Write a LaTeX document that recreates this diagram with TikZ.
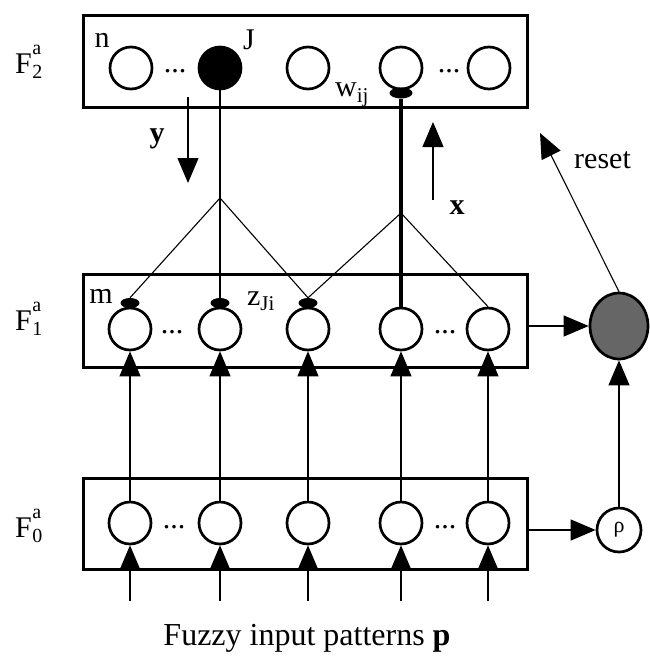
\documentclass[tikz,border=0pt]{standalone}
\usepackage{fontspec}
\setmainfont{Liberation Serif}
\setmathrm{Liberation Serif}
\usetikzlibrary{arrows.meta,shapes.geometric}

\tikzset{
  layerbox/.style={draw, line width=3pt, minimum width=444pt, inner sep=0pt},
  neuron/.style={circle, draw, line width=2.7pt, minimum size=42pt, inner sep=0pt},
  winner/.style={neuron, fill=black},
  capnode/.style={ellipse, fill=black, minimum width=19pt, minimum height=10pt, inner sep=0pt},
  thinline/.style={line width=1.1pt},
  heavyline/.style={line width=3.2pt},
  arr/.style={-{Triangle[length=25pt,width=21pt]}},
  lbl/.style={font=\fontsize{30}{36}\selectfont, inner sep=0pt},
  scriptlbl/.style={font=\fontsize{20}{24}\selectfont, inner sep=0pt, anchor=base west},
  dotsnode/.style={font=\fontsize{30}{36}\selectfont, inner sep=0pt},
}

\begin{document}
\begin{tikzpicture}[x=1pt, y=-1pt]
\useasboundingbox (0,0) rectangle (649,656);

% layer boxes
\node[layerbox, minimum height=92pt] (L2) at (305,61) {};
\node[layerbox, minimum height=93pt] (L1) at (305,320.5) {};
\node[layerbox, minimum height=91pt] (L0) at (305,523.5) {};

% layer labels: F with stacked superscript a and layer index
\node[lbl, anchor=base west] (lab2) at (15,73) {F};
\node[scriptlbl] (lab2a) at (lab2.base east) [yshift=19pt] {a};
\node[scriptlbl] (lab2i) at (lab2.base east) [yshift=-5pt] {2};
\node[lbl, anchor=base west] (lab1) at (15,330) {F};
\node[scriptlbl] (lab1a) at (lab1.base east) [yshift=19pt] {a};
\node[scriptlbl] (lab1i) at (lab1.base east) [yshift=-5pt] {1};
\node[lbl, anchor=base west] (lab0) at (15,537) {F};
\node[scriptlbl] (lab0a) at (lab0.base east) [yshift=19pt] {a};
\node[scriptlbl] (lab0i) at (lab0.base east) [yshift=-5pt] {0};

% F2 units
\node[neuron] (c21) at (131,68) {};
\node[winner] (c22) at (220,68) {};
\node[neuron] (c23) at (308,68) {};
\node[neuron] (c24) at (401,68) {};
\node[neuron] (c25) at (489,68) {};
\node[dotsnode] (d21) at (175,71) {...};
\node[dotsnode] (d22) at (449,71) {...};
\node[capnode, minimum width=23pt, minimum height=11pt] (w24) at (401,93) {};

% F1 units
\node[neuron] (c11) at (130,329) {};
\node[neuron] (c12) at (220,329) {};
\node[neuron] (c13) at (308,329) {};
\node[neuron] (c14) at (401,329) {};
\node[neuron] (c15) at (488,329) {};
\node[dotsnode] (d11) at (172,332) {...};
\node[dotsnode] (d12) at (445,332) {...};
\node[capnode] (z11) at (130,303) {};
\node[capnode] (z12) at (220,303) {};
\node[capnode] (z13) at (308,303) {};

% F0 units
\node[neuron] (c01) at (130,523) {};
\node[neuron] (c02) at (220,523) {};
\node[neuron] (c03) at (308,523) {};
\node[neuron] (c04) at (401,523) {};
\node[neuron] (c05) at (488,523) {};
\node[dotsnode] (d01) at (174,527) {...};
\node[dotsnode] (d02) at (445,527) {...};

% orienting and gain units
\node[ellipse, draw, line width=2.7pt, fill=black!60, minimum width=58pt, minimum height=66pt, inner sep=0pt] (orient) at (619,326) {};
\node[neuron, minimum size=44pt, font=\fontsize{22}{26}\selectfont] (rho) at (619,530) {ρ};

% small labels
\node[lbl] (ln) at (102,40) {n};
\node[lbl] (lJ) at (249,40) {J};
\node[lbl] (lw) at (352,95) {$\mathrm{w}_{\mathrm{ij}}$};
\node[lbl] (lm) at (101,296) {m};
\node[lbl] (lz) at (261,301) {$\mathrm{z}_{\mathrm{Ji}}$};
\node[lbl, anchor=base] (ly) at (157,142) {\textbf{y}};
\node[lbl, anchor=base] (lx) at (457,214) {\textbf{x}};
\node[lbl, anchor=base west] (lreset) at (574,168) {reset};
\node[font=\fontsize{32}{38}\selectfont, inner sep=0pt, anchor=base] (title) at (307,645) {Fuzzy input patterns \textbf{p}};

% top-down pathways from the chosen category J
\coordinate (ja) at (220,198);
\draw[thinline] (c22.south) -- (z12.north);
\draw[thinline] (ja) -- (z11.north);
\draw[thinline] (ja) -- (z13.north);

% bottom-up pathways into F2
\coordinate (jb) at (401,213);
\draw[heavyline] (w24.south) -- (c14.north);
\draw[thinline] (jb) -- (z13.north);
\draw[thinline] (jb) -- (c15.north);

% signal direction arrows
\coordinate (ytop) at (188,97);
\coordinate (ybot) at (188,183);
\draw[thinline, arr] (ytop) -- (ybot);
\coordinate (xbot) at (433,200);
\coordinate (xtop) at (433,122);
\draw[thinline, arr] (xbot) -- (xtop);

% F0 -> F1
\foreach \k in {1,...,5}{
  \draw[thinline, arr] (c0\k.north) -- (c1\k.south);
}

% inputs into F0
\foreach \k/\xx in {1/130,2/220,3/308,4/401,5/488}{
  \coordinate (in\k) at (\xx,601);
  \draw[thinline, arr] (in\k) -- (c0\k.south);
}

% orienting subsystem
\draw[thinline, arr] (L1.east |- orient.west) -- (orient.west);
\draw[thinline, arr] (L0.east |- rho.west) -- (rho.west);
\draw[thinline, arr] (rho.north) -- (orient.south);
\coordinate (rtip) at (540,133);
\draw[thinline, arr] (orient.north) -- (rtip);
\end{tikzpicture}
\end{document}
